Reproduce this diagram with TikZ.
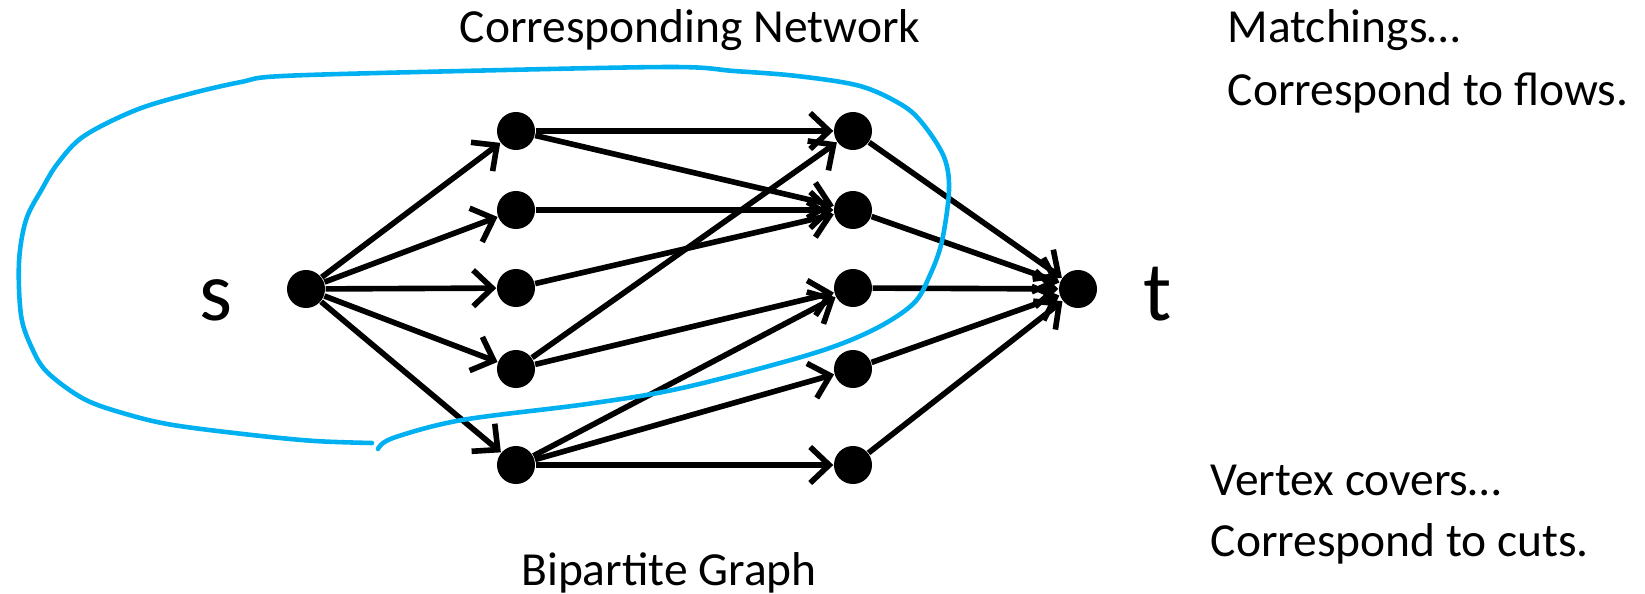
\documentclass[tikz,border=0pt]{standalone}
\usepackage{fontspec}
\setmainfont{Carlito}
\usetikzlibrary{arrows.meta}
\definecolor{Cian}{RGB}{0,176,240}

\begin{document}
\begin{tikzpicture}[x=0.01cm, y=-0.01cm,
        vertex/.style={circle, fill=black, inner sep=0pt, minimum size=0.38cm},
        edge/.style={line width=1.6pt, -{Straight Barb[length=0.19cm, width=0.36cm, line width=1.6pt]}},
        txt/.style={font=\fontsize{13.5}{16}\selectfont, inner sep=0pt},
        letter/.style={font=\fontsize{24}{28}\selectfont, inner sep=0pt},
        cut/.style={draw=Cian, line width=1.3pt, line cap=round, line join=round}
    ]
        \useasboundingbox (0,0) rectangle (1645,594);

        % Source, sink and the two columns
        \node[vertex] (s) at (306,289) {};
        \node[vertex] (t) at (1078,289) {};
        \node[vertex] (l1) at (516,131) {};
        \node[vertex] (l2) at (516,210) {};
        \node[vertex] (l3) at (516,288) {};
        \node[vertex] (l4) at (516,369) {};
        \node[vertex] (l5) at (516,465) {};
        \node[vertex] (r1) at (853,131) {};
        \node[vertex] (r2) at (853,210) {};
        \node[vertex] (r3) at (853,288) {};
        \node[vertex] (r4) at (853,369) {};
        \node[vertex] (r5) at (853,465) {};

        \node[letter, anchor=base] (slab) at (216,320) {s};
        \node[letter, anchor=base] (tlab) at (1158,320) {t};

        % Edges out of s
        \draw[edge] (s) -- (l1);
        \draw[edge] (s) -- (l2);
        \draw[edge] (s) -- (l3);
        \draw[edge] (s) -- (l4);
        \draw[edge] (s) -- (l5);

        % Edges of the bipartite graph
        \draw[edge] (l1) -- (r1);
        \draw[edge] (l1) -- (r2);
        \draw[edge] (l2) -- (r2);
        \draw[edge] (l3) -- (r2);
        \draw[edge] (l4) -- (r1);
        \draw[edge] (l4) -- (r3);
        \draw[edge] (l5) -- (r3);
        \draw[edge] (l5) -- (r4);
        \draw[edge] (l5) -- (r5);

        % Edges into t
        \draw[edge] (r1) -- (t);
        \draw[edge] (r2) -- (t);
        \draw[edge] (r3) -- (t);
        \draw[edge] (r4) -- (t);
        \draw[edge] (r5) -- (t);

        % Hand-drawn cut around s
        \draw[cut] plot[smooth, tension=0.55] coordinates {
            (378,449) (393,438) (462,420) (587,404) (682,388) (808,355) (871,331)
            (913,304) (930,275) (942,241) (949,190) (944,157) (923,124) (902,105)
            (860,86) (797,76) (734,71) (671,67) (462,71) (283,76) (241,82) (189,94)
            (136,110) (84,136) (58,163) (42,189) (26,220) (19,262) (21,315) (31,346)
            (47,372) (84,399) (126,414) (173,425) (252,435) (315,441) (372,443)};

        % Captions
        \node[txt, anchor=base] (net) at (690,42) {Corresponding Network};
        \node[txt, anchor=base] (bip) at (669,585) {Bipartite Graph};
        \node[txt, anchor=base west] (match) at (1227,42) {Matchings…};
        \node[txt, anchor=base west] (flows) at (1227,105) {Correspond to flows.};
        \node[txt, anchor=base west] (cover) at (1210,495) {Vertex covers…};
        \node[txt, anchor=base west] (cuts) at (1210,556) {Correspond to cuts.};
    \end{tikzpicture}
\end{document}
